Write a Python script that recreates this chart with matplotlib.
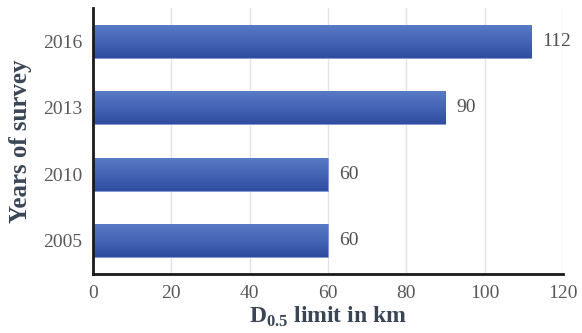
import numpy as np
import matplotlib
matplotlib.use("Agg")
import matplotlib.pyplot as plt
from matplotlib.colors import LinearSegmentedColormap

years = ["2005", "2010", "2013", "2016"]
limits = [60, 60, 90, 112]

plt.rcParams["font.family"] = ["Liberation Serif", "DejaVu Serif"]
plt.rcParams["mathtext.fontset"] = "custom"
plt.rcParams["mathtext.rm"] = "Liberation Serif:bold"
plt.rcParams["mathtext.bf"] = "Liberation Serif:bold"

fig = plt.figure(figsize=(5.82, 3.33), dpi=100)
ax = fig.add_axes([0.160, 0.177, 0.807, 0.799])

y = np.arange(len(years))
bars = ax.barh(y, limits, height=0.5, color="#4463b3", edgecolor="#7f98d6",
               linewidth=0.6, zorder=2)

# vertical gradient inside each bar, like the office chart style
cmap = LinearSegmentedColormap.from_list("bar", ["#2f4c9f", "#4565b5", "#5a7bc6"])
grad = np.linspace(0, 1, 64).reshape(-1, 1)
for b in bars:
    x0, y0 = b.get_x(), b.get_y()
    im = ax.imshow(grad, cmap=cmap, aspect="auto", origin="lower",
                   extent=[x0, x0 + b.get_width(), y0, y0 + b.get_height()],
                   zorder=2.5)
    im.set_clip_path(b)

for yi, v in zip(y, limits):
    ax.text(v + 2.8, yi, str(v), va="center", ha="left", fontsize=14, color="#505050")

ax.set_xlim(0, 120)
ax.set_ylim(-0.5, len(years) - 0.5)
ax.set_xticks(np.arange(0, 121, 20))
ax.set_yticks(y)
ax.set_yticklabels(years)
ax.tick_params(axis="both", length=0, labelsize=14, labelcolor="#595959", pad=8)

ax.xaxis.grid(True, color="#dfe3ea", linewidth=1.0, zorder=0)
ax.set_axisbelow(True)
for s in ["top", "right"]:
    ax.spines[s].set_visible(False)
for s in ["left", "bottom"]:
    ax.spines[s].set_linewidth(2)
    ax.spines[s].set_color("#1a1a1a")

ax.set_ylabel("Years of survey", fontsize=18, fontweight="bold", color="#3a4656", labelpad=8)
ax.set_xlabel(r"D$_{0.5}$ limit in km", fontsize=17, fontweight="bold", color="#3a4656", labelpad=2)

fig.savefig("out.png", dpi=100)
